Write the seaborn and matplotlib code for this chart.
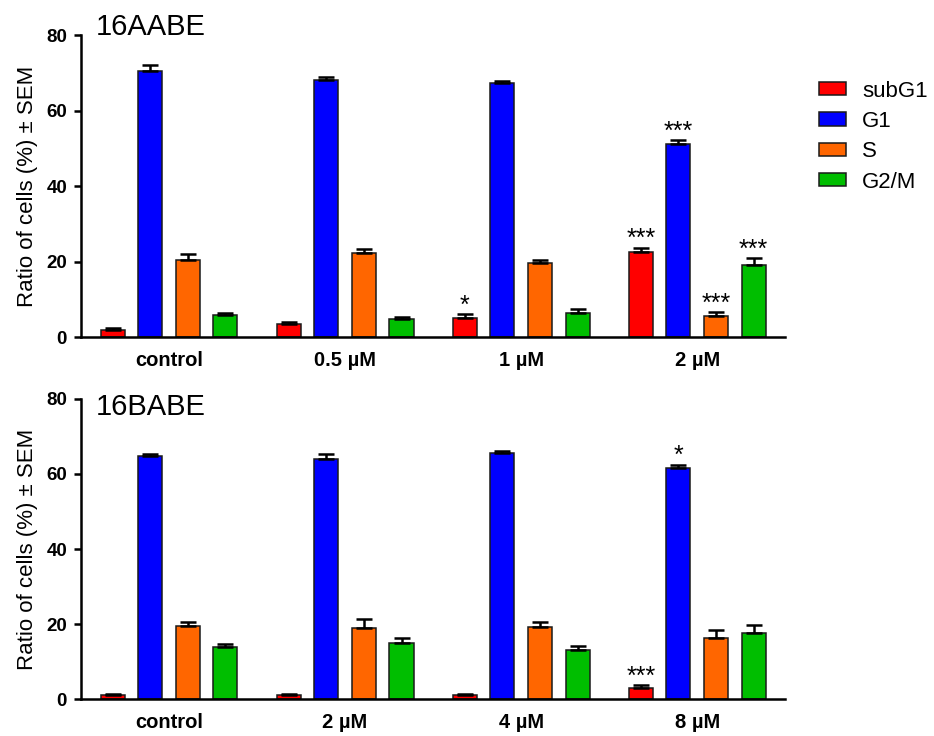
import seaborn as sns
import pandas as pd
import matplotlib.pyplot as plt

phases = ["subG1", "G1", "S", "G2/M"]
colors = ["#FF0000", "#0000FF", "#FF6600", "#00BE00"]

# 16AABE
doses_a = ["control", "0.5 µM", "1 µM", "2 µM"]
subg1_a = [1.8, 3.4, 5.1, 22.5]
g1_a = [70.6, 68.2, 67.3, 51.2]
s_a = [20.5, 22.3, 19.6, 5.7]
g2m_a = [5.9, 4.9, 6.4, 19.2]
sem_subg1_a = [0.6, 0.5, 1.0, 1.2]
sem_g1_a = [1.6, 0.7, 0.6, 1.1]
sem_s_a = [1.6, 1.1, 0.9, 1.0]
sem_g2m_a = [0.4, 0.5, 1.0, 1.7]
stars_a = [["", "", "", ""], ["", "", "", ""], ["*", "", "", ""], ["***", "***", "***", "***"]]

# 16BABE
doses_b = ["control", "2 µM", "4 µM", "8 µM"]
subg1_b = [1.0, 1.0, 1.1, 2.9]
g1_b = [64.7, 64.0, 65.6, 61.7]
s_b = [19.4, 18.9, 19.2, 16.2]
g2m_b = [13.8, 15.1, 13.1, 17.7]
sem_subg1_b = [0.4, 0.4, 0.4, 0.8]
sem_g1_b = [0.7, 1.3, 0.6, 0.8]
sem_s_b = [1.1, 2.5, 1.4, 2.2]
sem_g2m_b = [0.8, 1.3, 1.2, 2.0]
stars_b = [["", "", "", ""], ["", "", "", ""], ["", "", "", ""], ["***", "*", "", ""]]


def make_df(doses, vals, sems):
    rows = []
    for p, v, e in zip(phases, vals, sems):
        for d, vv, ee in zip(doses, v, e):
            rows.append({"dose": d, "phase": p, "value": vv, "sem": ee})
    return pd.DataFrame(rows)


df_a = make_df(doses_a, [subg1_a, g1_a, s_a, g2m_a],
               [sem_subg1_a, sem_g1_a, sem_s_a, sem_g2m_a])
df_b = make_df(doses_b, [subg1_b, g1_b, s_b, g2m_b],
               [sem_subg1_b, sem_g1_b, sem_s_b, sem_g2m_b])

sns.set_style("ticks")
plt.rcParams["font.family"] = ["Liberation Sans", "DejaVu Sans"]
for k in ["text.color", "axes.labelcolor", "xtick.color", "ytick.color",
          "axes.edgecolor"]:
    plt.rcParams[k] = "black"

fig = plt.figure(figsize=(9.34, 7.36), dpi=100)
ax1 = fig.add_axes([0.0867, 0.542, 0.754, 0.410])
ax2 = fig.add_axes([0.0867, 0.050, 0.754, 0.408])


def draw(ax, df, doses, stars, title, title_y, legend):
    sns.barplot(data=df, x="dose", y="value", hue="phase", order=doses,
                hue_order=phases, palette=colors, saturation=1, width=0.855,
                gap=0.36, edgecolor="#1a1a1a", linewidth=1.1, errorbar=None,
                legend=legend, ax=ax)
    bar_conts = list(ax.containers)
    for i, cont in enumerate(bar_conts):
        sub = df[df["phase"] == phases[i]].set_index("dose").loc[doses]
        xs = [b.get_x() + b.get_width() / 2 for b in cont.patches]
        tops = sub["value"].values
        errs = sub["sem"].values
        ax.errorbar(xs, tops, yerr=[[0] * len(errs), errs], fmt="none",
                    ecolor="black", elinewidth=1.8, capsize=6, capthick=1.8,
                    zorder=1)
        for j, x in enumerate(xs):
            s = stars[j][i]
            if s:
                ax.annotate(s, (x, tops[j] + errs[j]), xytext=(0, 1),
                            textcoords="offset points", ha="center",
                            va="baseline", fontsize=18)
    ax.set_ylim(0, 80)
    ax.set_yticks([0, 20, 40, 60, 80])
    ax.set_xlim(-0.5, 3.5)
    ax.set_xlabel("")
    ax.set_ylabel("Ratio of cells (%) ± SEM", fontsize=16, labelpad=6)
    sns.despine(ax=ax)
    ax.spines["left"].set_linewidth(1.8)
    ax.spines["bottom"].set_linewidth(1.8)
    ax.tick_params(axis="y", width=1.8, length=5, labelsize=13.5, pad=5)
    ax.tick_params(axis="x", length=0, labelsize=14.5, pad=10)
    for lab in ax.get_xticklabels() + ax.get_yticklabels():
        lab.set_fontweight("bold")
    ax.text(0.021, title_y, title, transform=ax.transAxes, fontsize=21,
            va="baseline", ha="left")


draw(ax1, df_a, doses_a, stars_a, "16AABE", 1.0, True)
draw(ax2, df_b, doses_b, stars_b, "16BABE", 0.947, False)

sns.move_legend(ax1, "upper left", bbox_to_anchor=(1.048, 0.85), title=None,
                frameon=False, fontsize=16, borderpad=0, borderaxespad=0,
                handlelength=1.2, handleheight=0.55, handletextpad=0.75,
                labelspacing=0.42)

plt.savefig("out.png", dpi=100)
